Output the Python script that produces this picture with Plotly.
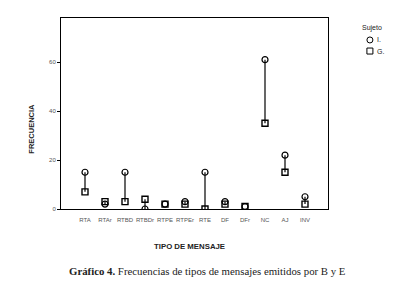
import plotly.graph_objects as go

categories = ["RTA", "RTAr", "RTBD", "RTBDr", "RTPE", "RTPEr", "RTE", "DF", "DFr", "NC", "AJ", "INV"]
i_values = [15, 2, 15, 0, 2, 3, 15, 3, 1, 61, 22, 5]
g_values = [7, 3, 3, 4, 2, 2, 0, 2, 1, 35, 15, 2]
y_ticks = [0, 20, 40, 60]

xs = list(range(len(categories)))

lx, ly = [], []
for x, a, b in zip(xs, i_values, g_values):
    lx += [x, x, None]
    ly += [a, b, None]

fig = go.Figure()
fig.add_trace(go.Scatter(x=lx, y=ly, mode="lines", line=dict(color="black", width=1.2),
                         showlegend=False, hoverinfo="skip"))
fig.add_trace(go.Scatter(x=xs, y=i_values, mode="markers", name="I.", showlegend=False,
                         marker=dict(symbol="circle-open", size=6, color="black", line=dict(width=1.2))))
fig.add_trace(go.Scatter(x=xs, y=g_values, mode="markers", name="G.", showlegend=False,
                         marker=dict(symbol="square-open", size=6, color="black", line=dict(width=1.4))))

font_sans = "Liberation Sans, Arial, sans-serif"
fig.update_layout(
    width=399, height=292,
    margin=dict(l=53, r=79, t=10, b=91),
    paper_bgcolor="white", plot_bgcolor="white",
    font=dict(family=font_sans, size=6, color="#333"),
    showlegend=False,
    xaxis=dict(range=[-1.2, 12.15], tickmode="array", tickvals=xs, ticktext=categories,
               tickangle=0, automargin=False, ticklabelstandoff=5,
               showgrid=False, zeroline=False, showline=True, linecolor="black", linewidth=1,
               mirror=True, ticks="", tickfont=dict(size=6, color="#555")),
    yaxis=dict(range=[0, 78], tickmode="array", tickvals=y_ticks, automargin=False,
               showgrid=False, zeroline=False, showline=True, linecolor="black", linewidth=1,
               mirror=True, ticks="outside", ticklen=3, tickcolor="black",
               tickfont=dict(size=6, color="#555")),
    annotations=[
        dict(text="<b>TIPO DE MENSAJE</b>", xref="paper", yref="paper", x=0.48, y=-0.195,
             xanchor="center", yanchor="middle", showarrow=False,
             font=dict(family=font_sans, size=7.8, color="#222")),
        dict(text="<b>FRECUENCIA</b>", xref="paper", yref="paper", x=-0.109, y=0.42,
             xanchor="center", yanchor="middle", showarrow=False, textangle=-90,
             font=dict(family=font_sans, size=7.5, color="#222")),
        dict(text="Sujeto", xref="paper", yref="paper", x=1.165, y=0.948,
             xanchor="center", yanchor="middle", showarrow=False,
             font=dict(family=font_sans, size=7, color="#222")),
        dict(text="I.", xref="paper", yref="paper", x=1.175, y=0.885,
             xanchor="left", yanchor="middle", showarrow=False,
             font=dict(family=font_sans, size=7, color="#222")),
        dict(text="G.", xref="paper", yref="paper", x=1.175, y=0.827,
             xanchor="left", yanchor="middle", showarrow=False,
             font=dict(family=font_sans, size=7, color="#222")),
        dict(text="<b>Gráfico 4.</b> Frecuencias de tipos de mensajes emitidos por B y E",
             xref="paper", yref="paper", x=0.547, y=-0.325, xanchor="center", yanchor="middle",
             showarrow=False, font=dict(family="Liberation Serif, Times New Roman, serif",
                                        size=10.8, color="#222")),
    ],
    shapes=[
        dict(type="circle", xref="paper", yref="paper", xsizemode="pixel", ysizemode="pixel",
             xanchor=1.157, yanchor=0.885, x0=-3, x1=3, y0=-3, y1=3,
             line=dict(color="black", width=1)),
        dict(type="rect", xref="paper", yref="paper", xsizemode="pixel", ysizemode="pixel",
             xanchor=1.157, yanchor=0.827, x0=-3, x1=3, y0=-3, y1=3,
             line=dict(color="black", width=1)),
    ],
)

fig.write_html("out.html")
